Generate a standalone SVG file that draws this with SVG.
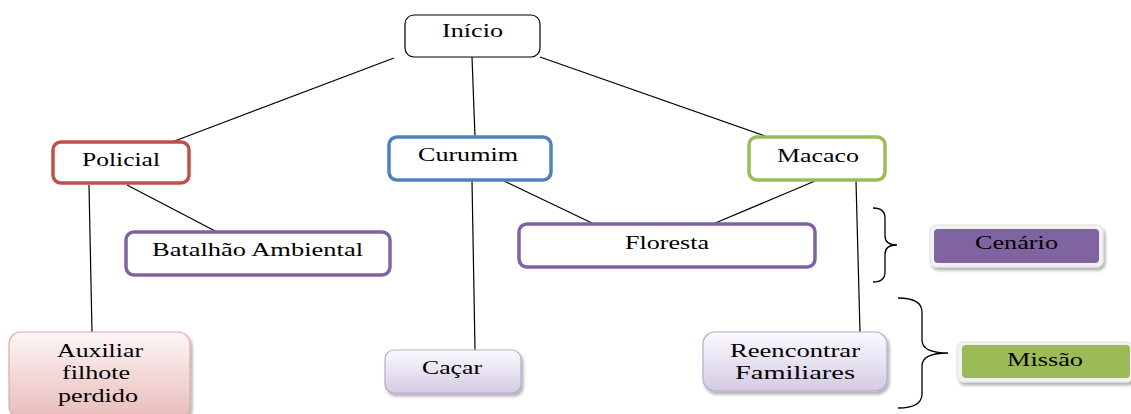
<svg xmlns="http://www.w3.org/2000/svg" width="1131" height="414" viewBox="0 0 1131 414">
<style>
text{font-family:'Liberation Serif','DejaVu Serif',serif;font-size:18px;fill:#000}
.n{fill:#fff;stroke-width:3.5}
.ln{stroke:#000;stroke-width:1.2;fill:none}
.br{stroke:#000;stroke-width:1.3;fill:none}
</style>
<defs>
<linearGradient id="gPink" x1="0" y1="0" x2="0" y2="1">
<stop offset="0" stop-color="#fdf6f6"/><stop offset="1" stop-color="#e8bcbb"/>
</linearGradient>
<linearGradient id="gLav" x1="0" y1="0" x2="0" y2="1">
<stop offset="0" stop-color="#fbfaff"/><stop offset="1" stop-color="#d4cbe3"/>
</linearGradient>
<filter id="sh" x="-10%" y="-10%" width="125%" height="135%">
<feDropShadow dx="2" dy="3" stdDeviation="1.5" flood-color="#000" flood-opacity="0.3"/>
</filter>
</defs>
<rect width="1131" height="414" fill="#fff"/>
<g id="connectors">
<line class="ln" x1="394" y1="58" x2="172" y2="142"/>
<line class="ln" x1="472" y1="57" x2="475" y2="137"/>
<line class="ln" x1="540" y1="57" x2="765" y2="136"/>
<line class="ln" x1="127" y1="185" x2="217" y2="232"/>
<line class="ln" x1="89" y1="185" x2="92" y2="332"/>
<line class="ln" x1="504" y1="181" x2="594" y2="224"/>
<line class="ln" x1="472" y1="181" x2="475" y2="350"/>
<line class="ln" x1="815" y1="181" x2="713" y2="224"/>
<line class="ln" x1="856" y1="181" x2="860" y2="332"/>
</g>
<g id="inicio">
<rect x="405" y="15" width="135" height="42" rx="9" fill="#fff" stroke="#000" stroke-width="1.2"/>
<text x="442" y="37" textLength="61" lengthAdjust="spacingAndGlyphs">Início</text>
</g>
<g id="policial">
<rect class="n" x="53" y="142" width="136" height="41" rx="8" stroke="#c0504d"/>
<text x="82" y="166" textLength="78" lengthAdjust="spacingAndGlyphs">Policial</text>
</g>
<g id="curumim">
<rect class="n" x="389" y="137" width="162" height="43" rx="8" stroke="#4f81bd"/>
<text x="418" y="161" textLength="100" lengthAdjust="spacingAndGlyphs">Curumim</text>
</g>
<g id="macaco">
<rect class="n" x="749" y="137" width="136" height="43" rx="8" stroke="#9bbb59"/>
<text x="777" y="162" textLength="82" lengthAdjust="spacingAndGlyphs">Macaco</text>
</g>
<g id="batalhao">
<rect class="n" x="126" y="232" width="264" height="43" rx="8" stroke="#8064a2"/>
<text x="152" y="256" textLength="211" lengthAdjust="spacingAndGlyphs">Batalhão Ambiental</text>
</g>
<g id="floresta">
<rect class="n" x="519" y="224" width="296" height="43" rx="8" stroke="#8064a2"/>
<text x="625" y="249" textLength="84" lengthAdjust="spacingAndGlyphs">Floresta</text>
</g>
<g id="auxiliar">
<rect x="9" y="332" width="181" height="86" rx="12" fill="url(#gPink)" stroke="#e0a9a8" stroke-width="1.2" filter="url(#sh)"/>
<text x="57" y="357" textLength="86" lengthAdjust="spacingAndGlyphs">Auxiliar</text>
<text x="62" y="379" textLength="68" lengthAdjust="spacingAndGlyphs">filhote</text>
<text x="58" y="402" textLength="80" lengthAdjust="spacingAndGlyphs">perdido</text>
</g>
<g id="cacar">
<rect x="385" y="350" width="136" height="43" rx="9" fill="url(#gLav)" stroke="#b7a9cf" stroke-width="1.2" filter="url(#sh)"/>
<text x="422" y="374" textLength="60" lengthAdjust="spacingAndGlyphs">Caçar</text>
</g>
<g id="reencontrar">
<rect x="703" y="332" width="184" height="59" rx="12" fill="url(#gLav)" stroke="#b7a9cf" stroke-width="1.2" filter="url(#sh)"/>
<text x="730" y="357" textLength="130" lengthAdjust="spacingAndGlyphs">Reencontrar</text>
<text x="735" y="379" textLength="120" lengthAdjust="spacingAndGlyphs">Familiares</text>
</g>
<g id="braces">
<path class="br" d="M873,208 Q885,208 885,218 L885,236 Q885,245 897,245 Q885,245 885,254 L885,272 Q885,282 873,282"/>
<path class="br" d="M898,298 Q922,298 922,312 L922,340 Q922,353 948,353 Q922,353 922,366 L922,394 Q922,408 898,408"/>
</g>
<g id="cenario">
<rect x="930" y="225" width="173" height="42" rx="6" fill="#f2f2f2" stroke="#e0e0e0" stroke-width="1" filter="url(#sh)"/>
<rect x="934" y="229" width="165" height="34" rx="4" fill="#8064a2"/>
<text x="975" y="249" textLength="83" lengthAdjust="spacingAndGlyphs">Cenário</text>
</g>
<g id="missao">
<rect x="957" y="342" width="176" height="40" rx="6" fill="#f2f2f2" stroke="#e0e0e0" stroke-width="1" filter="url(#sh)"/>
<rect x="962" y="345" width="168" height="33" rx="4" fill="#9bbb59"/>
<text x="1007" y="366" textLength="76" lengthAdjust="spacingAndGlyphs">Missão</text>
</g>
</svg>
